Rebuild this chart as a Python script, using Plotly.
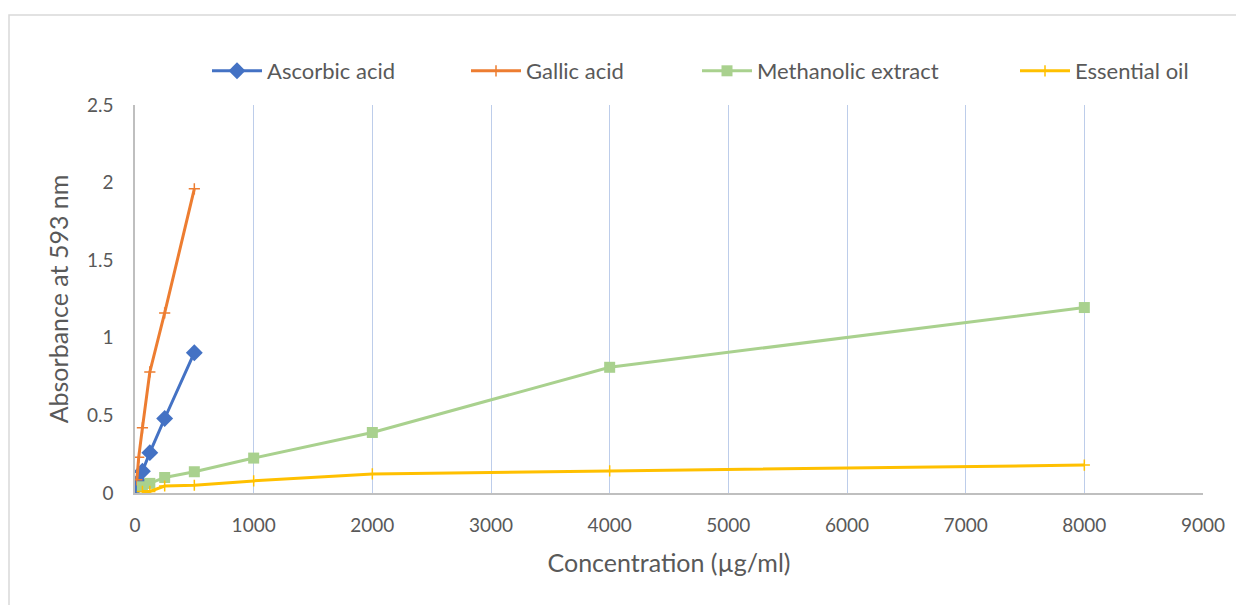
import plotly.graph_objects as go

# Data
conc_std = [15.6, 31.25, 62.5, 125, 250, 500]
ascorbic = [0.04, 0.075, 0.14, 0.26, 0.48, 0.904]
gallic = [0.085, 0.23, 0.42, 0.78, 1.16, 1.96]
conc_ext = [62.5, 125, 250, 500, 1000, 2000, 4000, 8000]
methanolic = [0.04, 0.062, 0.10, 0.137, 0.225, 0.39, 0.81, 1.195]
essential = [0.01, 0.01, 0.045, 0.05, 0.078, 0.123, 0.142, 0.18]

names = ["Ascorbic acid", "Gallic acid", "Methanolic extract", "Essential oil"]
colors = ["#4472C4", "#ED7D31", "#A9D18E", "#FFC000"]

FONT = "Lato"
GREY = "#595959"

fig = go.Figure()
fig.add_trace(go.Scatter(x=conc_std, y=ascorbic, name=names[0], mode="lines+markers",
                         line=dict(color=colors[0], width=3),
                         marker=dict(symbol="diamond", size=13, color=colors[0]),
                         legend="legend"))
fig.add_trace(go.Scatter(x=conc_std, y=gallic, name=names[1], mode="lines+markers",
                         line=dict(color=colors[1], width=3),
                         marker=dict(symbol="cross-thin", size=8,
                                     line=dict(color=colors[1], width=1.5)),
                         legend="legend2"))
fig.add_trace(go.Scatter(x=conc_ext, y=methanolic, name=names[2], mode="lines+markers",
                         line=dict(color=colors[2], width=3),
                         marker=dict(symbol="square", size=11, color=colors[2]),
                         legend="legend3"))
fig.add_trace(go.Scatter(x=conc_ext, y=essential, name=names[3], mode="lines+markers",
                         line=dict(color=colors[3], width=3),
                         marker=dict(symbol="cross-thin", size=8,
                                     line=dict(color=colors[3], width=1.5)),
                         legend="legend4"))

# page has an 8px body margin; figure coordinates = screen - 8
OFF = 8
FW, FH = 1244 - OFF, 605 - OFF
L, R, T, B = 135 - OFF, 1203 - OFF, 105 - OFF, 493 - OFF
W, H = R - L, B - T

def px(x):
    return (x - L) / W

def py(y):
    return (B - y) / H

leg_common = dict(orientation="h", yanchor="middle", xanchor="left",
                  font=dict(family=FONT, size=22, color=GREY),
                  bgcolor="rgba(0,0,0,0)", itemwidth=50)
leg_x = [210 - 11, 469 - 11, 700 - 11, 1018 - 11]
leg_y = 71 - OFF
fig.update_layout(
    showlegend=True,
    legend=dict(x=px(leg_x[0]), y=py(leg_y), **leg_common),
    legend2=dict(x=px(leg_x[1]), y=py(leg_y), **leg_common),
    legend3=dict(x=px(leg_x[2]), y=py(leg_y), **leg_common),
    legend4=dict(x=px(leg_x[3]), y=py(leg_y), **leg_common),
)

fig.update_layout(
    width=FW, height=FH,
    margin=dict(l=L, r=FW - R, t=T, b=FH - B, autoexpand=False),
    paper_bgcolor="white", plot_bgcolor="white",
    font=dict(family=FONT, color=GREY),
    xaxis=dict(range=[0, 9000], dtick=1000, tick0=0,
               showgrid=True, gridcolor="#BDCDEA", gridwidth=1,
               showline=True, linecolor="#BFBFBF", linewidth=1.5,
               zeroline=False, ticks="", ticklabelstandoff=14,
               tickfont=dict(family=FONT, size=19, color=GREY),
               title=dict(text="Concentration (µg/ml)", standoff=20,
                          font=dict(family=FONT, size=25, color=GREY))),
    yaxis=dict(range=[0, 2.5], dtick=0.5, tick0=0,
               showgrid=False, showline=True, linecolor="#BFBFBF", linewidth=1.5,
               zeroline=False, ticks="", ticklabelstandoff=16,
               tickfont=dict(family=FONT, size=19, color=GREY),
               title=dict(text="Absorbance at 593 nm", standoff=11,
                          font=dict(family=FONT, size=25, color=GREY))),
    shapes=[dict(type="rect", xref="paper", yref="paper",
                 x0=px(9 - OFF), x1=px(FW + 10), y0=py(FH + 10), y1=py(15 - OFF),
                 line=dict(color="#D9D9D9", width=1.5), fillcolor="rgba(0,0,0,0)",
                 layer="below")],
)

fig.write_html("out.html")
